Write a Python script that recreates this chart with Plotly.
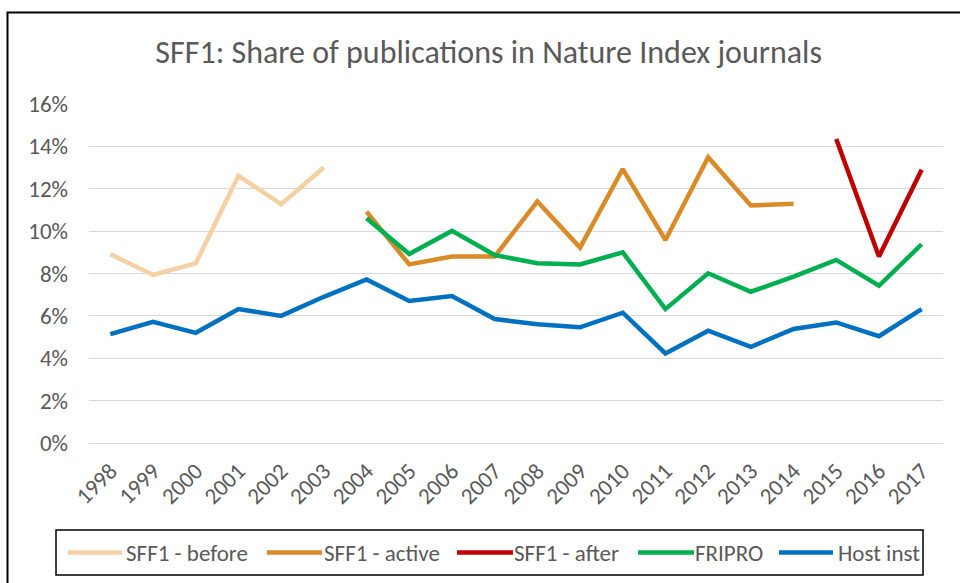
import plotly.graph_objects as go

years = [str(y) for y in range(1998, 2018)]

sff1_before = [0.0891, 0.0793, 0.0848, 0.1261, 0.1127, 0.1300] + [None] * 14
sff1_active = [None] * 6 + [0.1092, 0.0843, 0.0880, 0.0880, 0.1140, 0.0922, 0.1293,
                            0.0958, 0.1349, 0.1121, 0.1129] + [None] * 3
sff1_after = [None] * 17 + [0.1435, 0.0880, 0.1290]
fripro = [None] * 6 + [0.1061, 0.0892, 0.1001, 0.0887, 0.0848, 0.0843, 0.0900,
                       0.0632, 0.0801, 0.0714, 0.0785, 0.0864, 0.0742, 0.0938]
host_inst = [0.0514, 0.0572, 0.0520, 0.0632, 0.0600, 0.0690, 0.0772, 0.0670, 0.0694,
             0.0585, 0.0561, 0.0546, 0.0615, 0.0423, 0.0530, 0.0454, 0.0538, 0.0569,
             0.0504, 0.0632]

series_names = ["SFF1 - before", "SFF1 - active", "SFF1 - after", "FRIPRO", "Host inst"]
series_values = [sff1_before, sff1_active, sff1_after, fripro, host_inst]
series_colors = ["#F4D0A2", "#D98B27", "#C00000", "#00B050", "#0070C0"]

FONT = "Carlito, Calibri, Lato, sans-serif"
GRAY = "#595959"

L, R, T, B = 89, 17, 104, 140
PW, PH = 960 - L - R, 583 - T - B


def px_x(x):
    return (x - L) / PW


def px_y(y):
    return (583 - B - y) / PH


fig = go.Figure()
for name, vals, color in zip(series_names, series_values, series_colors):
    fig.add_trace(go.Scatter(
        x=years, y=vals, name=name, mode="lines",
        line=dict(color=color, width=4.5),
        connectgaps=False, showlegend=False,
    ))

# Legend (drawn as a boxed row of line swatches + labels, like the original)
legend_line_x = [(68, 122), (267, 322), (457, 513), (638, 694), (779, 833)]
legend_text_x = [124, 322, 512, 693, 836]
legend_cy = 552.5

shapes = [
    dict(type="rect", xref="paper", yref="paper",
         x0=px_x(7.5), x1=px_x(975), y0=px_y(600), y1=px_y(12.5),
         line=dict(color="black", width=2), layer="below"),
    dict(type="rect", xref="paper", yref="paper",
         x0=px_x(56), x1=px_x(923), y0=px_y(575), y1=px_y(530),
         line=dict(color="black", width=1.5), fillcolor="white", layer="below"),
]
annotations = []
for (lx0, lx1), tx, name, color in zip(legend_line_x, legend_text_x, series_names, series_colors):
    shapes.append(dict(type="line", xref="paper", yref="paper",
                       x0=px_x(lx0), x1=px_x(lx1), y0=px_y(legend_cy), y1=px_y(legend_cy),
                       line=dict(color=color, width=4.5)))
    annotations.append(dict(text=name, xref="paper", yref="paper",
                            x=px_x(tx), y=px_y(legend_cy), xanchor="left", yanchor="middle",
                            showarrow=False,
                            font=dict(family=FONT, size=23, color=GRAY)))

fig.update_layout(
    width=960, height=583,
    paper_bgcolor="white", plot_bgcolor="white",
    margin=dict(l=L, r=R, t=T, b=B),
    title=dict(text="SFF1: Share of publications in Nature Index journals",
               x=0.509, xanchor="center", y=0.911, yanchor="middle",
               font=dict(family=FONT, size=32, color=GRAY)),
    font=dict(family=FONT, color=GRAY),
    showlegend=False,
    xaxis=dict(type="category", range=[-0.5, 19.5], tickangle=-45,
               showgrid=False, showline=False, ticks="", automargin=False,
               ticklabelstandoff=9,
               tickfont=dict(family=FONT, size=23, color=GRAY)),
    yaxis=dict(range=[0, 0.16], dtick=0.02, tickformat=".0%",
               showgrid=True, gridcolor="#D9D9D9", gridwidth=1,
               zeroline=True, zerolinecolor="#D9D9D9", zerolinewidth=1,
               showline=False, ticks="", ticklabelstandoff=20, automargin=False,
               tickfont=dict(family=FONT, size=23, color=GRAY)),
    shapes=shapes,
    annotations=annotations,
)

fig.write_html("out.html", config={"displayModeBar": False},
               post_script="document.body.style.margin='0';document.body.style.overflow='hidden';")
